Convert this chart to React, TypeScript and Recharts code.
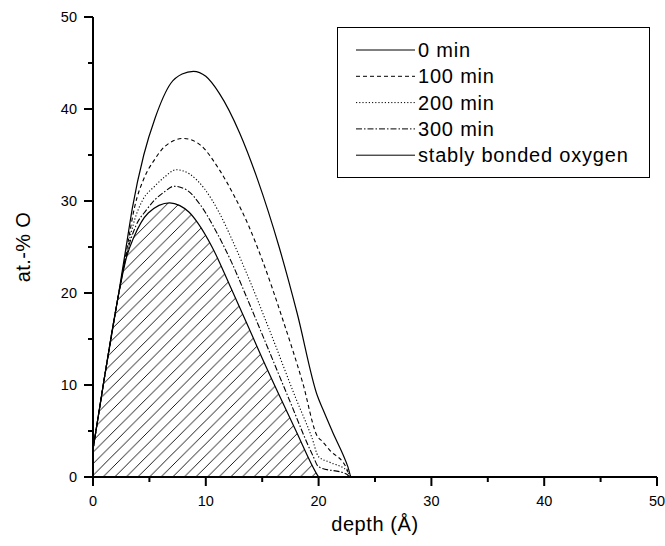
// App.tsx — oxygen depth profiles (at.-% O vs depth) with hatched "stably bonded" area
import { ComposedChart, Line, Area, XAxis, YAxis, Legend } from "recharts";

const FONT = "'Liberation Sans', Arial, sans-serif";

// axis ticks every 5; only multiples of 10 get a label and a long tick
const xTicks = [0, 5, 10, 15, 20, 25, 30, 35, 40, 45, 50];
const yTicks = [0, 5, 10, 15, 20, 25, 30, 35, 40, 45, 50];

// 0 min
const depth0 = [0, 1, 2.2, 3, 3.5, 4.5, 5.5, 6.9, 7.9, 8.9, 10, 11.2, 13, 14.6, 16.5, 18.1, 19.9, 20.4, 21.2, 22.6, 22.9, 50];
const oxy0 = [3, 10.7, 19.4, 25.5, 29.3, 35, 39, 42.8, 43.8, 44.1, 43.55, 41.7, 37.4, 32.3, 25, 17.8, 8.8, 7.3, 5, 1.1, 0, 0];

// 100 min
const depth100 = [0, 1, 2.2, 3, 3.7, 4.57, 5.46, 6.34, 8.05, 9.5, 11.2, 12.5, 13.8, 15, 16.8, 18.6, 19.9, 20.3, 21, 22.5, 22.8, 50];
const oxy100 = [3, 10.7, 19.4, 24.8, 29.4, 32.6, 34.5, 35.9, 36.8, 36.1, 33.4, 30.6, 27.3, 23.6, 17.2, 10.2, 4.4, 3.9, 2.9, 0.9, 0, 0];

// 200 min
const depth200 = [0, 1, 2.2, 3, 3.7, 4.4, 5.46, 6.34, 7.37, 8.6, 9.9, 11.2, 12.4, 13.5, 15.7, 18, 19.4, 20, 21, 22.6, 22.8, 50];
const oxy200 = [3, 10.7, 19.4, 24.5, 28, 30.1, 31.6, 32.6, 33.4, 32.9, 31.3, 28.7, 25.6, 22.5, 15.8, 8.5, 4.3, 2.2, 1.6, 0.6, 0, 0];

// 300 min
const depth300 = [0, 1, 2.2, 3, 3.8, 4.72, 5.46, 6.34, 7.17, 8.3, 9.5, 11, 12.3, 13.6, 15, 17.4, 19.5, 20, 22.5, 22.8, 50];
const oxy300 = [3, 10.7, 19.4, 24.3, 27.3, 29, 30.1, 31, 31.6, 31.2, 29.6, 26.5, 23.3, 19.6, 15.5, 8.4, 2.3, 1.1, 0.3, 0, 0];

// stably bonded oxygen (hatched)
const depthStable = [0, 1, 2.2, 3, 3.6, 4.9, 6.8, 7.7, 8.5, 9.3, 10.6, 12.1, 13.6, 15, 16.5, 18, 19.8, 20];
const oxyStable = [3, 10.7, 19.4, 24, 26, 28.7, 29.8, 29.5, 28.8, 27.6, 24.9, 20.9, 16.8, 12.9, 8.9, 5, 0.4, 0];

const legendNames = ["0 min", "100 min", "200 min", "300 min", "stably bonded oxygen"];
const legendDashes = [undefined, "4 3", "1.2 2", "6 2 1.5 2", undefined];

const zip = (xs: number[], ys: number[]) => xs.map((x, i) => ({ x, y: ys[i] }));

const axisLineStyle = { stroke: "#000", strokeWidth: 2 };

// custom ticks: long tick + label on majors, short bare tick on minors
const renderXTick = (props: any) => {
  const { x, y, payload } = props;
  const v = payload.value as number;
  const major = v % 10 === 0;
  return (
    <g key={`xt-${v}`}>
      <path d={`M${x},${y}V${y + (major ? 9 : 5)}`} stroke="#000" strokeWidth={2} fill="none" />
      {major && (
        <text x={x} y={y + 29} textAnchor="middle" fontSize={14.5} fontFamily={FONT} fill="#000" stroke="none">
          {v}
        </text>
      )}
    </g>
  );
};

const renderYTick = (props: any) => {
  const { x, y, payload } = props;
  const v = payload.value as number;
  const major = v % 10 === 0;
  return (
    <g key={`yt-${v}`}>
      <path d={`M${x - (major ? 9 : 5)},${y}H${x}`} stroke="#000" strokeWidth={2} fill="none" />
      {major && (
        <text x={x - 16} y={y + 5} textAnchor="end" fontSize={14.5} fontFamily={FONT} fill="#000" stroke="none">
          {v}
        </text>
      )}
    </g>
  );
};

function LegendBox() {
  return (
    <svg width={313} height={151} style={{ display: "block" }}>
      <rect x={0.5} y={0.5} width={312} height={150} fill="#fff" stroke="#000" strokeWidth={1} />
      {legendNames.map((name, i) => {
        const cy = 23 + i * 26.3;
        return (
          <g key={name}>
            <line x1={19} x2={78} y1={cy} y2={cy} stroke="#000" strokeWidth={1} strokeDasharray={legendDashes[i]} />
            <text x={81} y={cy + 7} fontSize={20} letterSpacing={0.8} fontFamily={FONT} fill="#000">
              {name}
            </text>
          </g>
        );
      })}
    </svg>
  );
}

export default function App() {
  return (
    <div style={{ position: "absolute", left: 0, top: 0, background: "#fff" }}>
      <ComposedChart width={665} height={546} margin={{ top: 17, right: 8, bottom: 0, left: 0 }}>
        <defs>
          <pattern id="hatch" patternUnits="userSpaceOnUse" width={11.6} height={11.6}>
            <path d="M0,11.6 L11.6,0 M-2,2 L2,-2 M9.6,13.6 L13.6,9.6" stroke="#000" strokeWidth={0.9} />
          </pattern>
        </defs>

        <XAxis
          type="number"
          dataKey="x"
          domain={[0, 50]}
          ticks={xTicks}
          interval={0}
          height={69}
          tickSize={0}
          tickMargin={0}
          tickLine={false}
          tick={renderXTick}
          axisLine={axisLineStyle}
          allowDuplicatedCategory={false}
          label={{
            content: ({ viewBox }: any) => (
              <text
                x={viewBox.x + viewBox.width / 2}
                y={viewBox.y + 54}
                textAnchor="middle"
                fontSize={20}
                letterSpacing={0.6}
                fontFamily={FONT}
                fill="#000"
              >
                depth (Å)
              </text>
            ),
          }}
        />
        <YAxis
          type="number"
          domain={[0, 50]}
          ticks={yTicks}
          interval={0}
          width={93}
          tickSize={0}
          tickMargin={0}
          tickLine={false}
          tick={renderYTick}
          axisLine={axisLineStyle}
          label={{
            content: ({ viewBox }: any) => {
              const cx = viewBox.x + 30;
              const cy = viewBox.y + viewBox.height / 2;
              return (
                <text
                  x={0}
                  y={0}
                  transform={`translate(${cx}, ${cy}) rotate(-90)`}
                  textAnchor="middle"
                  fontSize={20}
                  letterSpacing={0.4}
                  fontFamily={FONT}
                  fill="#000"
                >
                  at.-% O
                </text>
              );
            },
          }}
        />

        <Legend
          layout="vertical"
          align="center"
          verticalAlign="middle"
          wrapperStyle={{ left: 337, top: 27, width: 313, height: 151, margin: 0, padding: 0 }}
          content={() => <LegendBox />}
        />

        {/* hatched area under the stably bonded curve */}
        <Area
          data={zip(depthStable, oxyStable)}
          dataKey="y"
          type="monotone"
          stroke="#000"
          strokeWidth={1.2}
          fill="url(#hatch)"
          fillOpacity={1}
          baseValue={0}
          dot={false}
          activeDot={false}
          isAnimationActive={false}
        />

        <Line data={zip(depth300, oxy300)} dataKey="y" type="monotone" stroke="#000" strokeWidth={1.1}
          strokeDasharray="6 2 1.5 2" dot={false} activeDot={false} isAnimationActive={false} />
        <Line data={zip(depth200, oxy200)} dataKey="y" type="monotone" stroke="#000" strokeWidth={1.1}
          strokeDasharray="1.2 2" dot={false} activeDot={false} isAnimationActive={false} />
        <Line data={zip(depth100, oxy100)} dataKey="y" type="monotone" stroke="#000" strokeWidth={1.1}
          strokeDasharray="4 3" dot={false} activeDot={false} isAnimationActive={false} />
        <Line data={zip(depth0, oxy0)} dataKey="y" type="monotone" stroke="#000" strokeWidth={1.2}
          dot={false} activeDot={false} isAnimationActive={false} />
      </ComposedChart>
    </div>
  );
}
